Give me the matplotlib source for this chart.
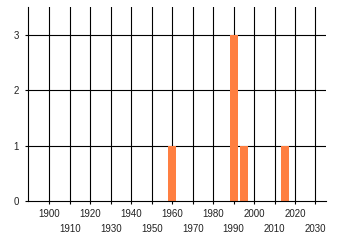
import matplotlib
matplotlib.use('Agg')
import matplotlib.pyplot as plt

# values
years = [1960, 1990, 1995, 2015]
counts = [1, 3, 1, 1]
even_decades = [1900, 1920, 1940, 1960, 1980, 2000, 2020]
odd_decades = [1910, 1930, 1950, 1970, 1990, 2010, 2030]
y_ticks = [0, 1, 2, 3]

plt.rcParams['font.family'] = ['Liberation Sans', 'DejaVu Sans']
plt.rcParams['font.size'] = 7

fig = plt.figure(figsize=(3.4, 2.45), dpi=100)
ax = fig.add_axes([0.0824, 0.1796, 0.958 - 0.0824, 0.9714 - 0.1796])

# grid lines under the bars
for d in even_decades + odd_decades:
    ax.axvline(d, color='black', linewidth=0.8, zorder=1)
for y in y_ticks[1:]:
    ax.axhline(y, color='black', linewidth=0.8, zorder=1)

ax.bar(years, counts, width=4, color='#ff7f41', zorder=2)

ax.set_xlim(1889.5, 2035)
ax.set_ylim(0, 3.5)

ax.set_xticks(even_decades)
ax.set_xticklabels([str(d) for d in even_decades])
ax.set_xticks(odd_decades, minor=True)
ax.set_xticklabels([str(d) for d in odd_decades], minor=True)
ax.set_yticks(y_ticks)

ax.tick_params(axis='x', which='major', length=2.5, width=0.8, pad=3, colors='black', labelcolor='#222222')
ax.tick_params(axis='x', which='minor', length=2.5, width=0.8, pad=14, colors='black', labelcolor='#222222')
ax.tick_params(axis='y', length=2.5, width=0.8, pad=4, colors='black', labelcolor='#222222')

for side in ['top', 'right']:
    ax.spines[side].set_visible(False)
for side in ['left', 'bottom']:
    ax.spines[side].set_linewidth(0.8)
    ax.spines[side].set_zorder(3)

fig.savefig('out.png', dpi=100)
